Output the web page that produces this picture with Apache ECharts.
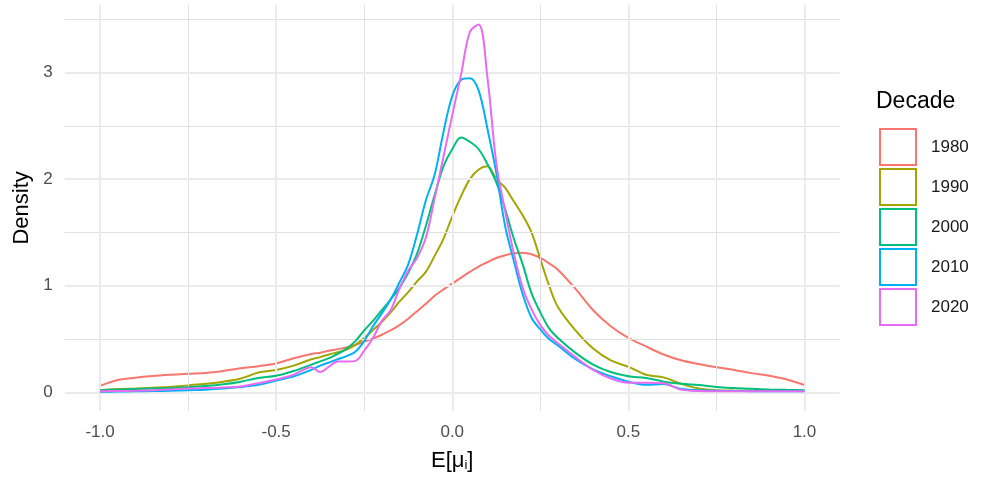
<!DOCTYPE html>
<html>
<head>
<meta charset="utf-8">
<script src="https://cdn.jsdelivr.net/npm/echarts@6/dist/echarts.min.js"></script>
<style>html,body{margin:0;padding:0;background:#fff}#c{width:981px;height:486px}</style>
</head>
<body>
<div id="c"></div>
<script>
// E[mu_i] evaluation points
const xs = [-1,-0.95,-0.9,-0.85,-0.8,-0.75,-0.7,-0.65,-0.6,-0.55,-0.5,-0.45,-0.4,
  -0.375,-0.35,-0.325,-0.3,-0.275,-0.25,-0.225,-0.2,-0.175,-0.15,-0.125,-0.1,-0.075,-0.05,-0.025,
  0,0.025,0.05,0.075,0.1,0.125,0.15,0.175,0.2,0.225,0.25,0.275,0.3,
  0.35,0.4,0.45,0.5,0.55,0.6,0.65,0.7,0.75,0.8,0.85,0.9,0.95,1];

const d1980 = [0.06,0.115,0.137,0.153,0.165,0.175,0.182,0.2,0.225,0.245,0.27,0.32,0.36,
  0.372,0.39,0.405,0.42,0.445,0.475,0.505,0.54,0.58,0.63,0.69,0.76,0.83,0.905,0.965,
  1.02,1.075,1.13,1.18,1.22,1.26,1.285,1.305,1.31,1.295,1.26,1.21,1.15,
  0.97,0.77,0.62,0.51,0.43,0.355,0.3,0.265,0.235,0.21,0.18,0.155,0.12,0.068];

const d1990 = [0.02,0.03,0.035,0.042,0.05,0.065,0.08,0.1,0.13,0.185,0.21,0.25,0.31,
  0.33,0.355,0.375,0.4,0.445,0.51,0.585,0.66,0.75,0.85,0.94,1.04,1.13,1.28,1.44,
  1.65,1.84,2.0,2.09,2.12,2.0,1.92,1.79,1.66,1.5,1.25,1.0,0.8,
  0.58,0.41,0.3,0.24,0.165,0.14,0.08,0.035,0.02,0.016,0.014,0.012,0.011,0.01];

const d2000 = [0.02,0.025,0.03,0.035,0.04,0.047,0.058,0.075,0.1,0.135,0.155,0.2,0.26,
  0.29,0.32,0.36,0.41,0.48,0.58,0.67,0.77,0.87,0.98,1.12,1.3,1.56,1.85,2.12,
  2.28,2.39,2.35,2.28,2.14,1.97,1.72,1.44,1.2,0.93,0.75,0.6,0.51,
  0.37,0.26,0.19,0.15,0.135,0.1,0.08,0.068,0.05,0.04,0.033,0.027,0.023,0.02];

const d2010 = [0.005,0.007,0.01,0.012,0.015,0.02,0.025,0.035,0.05,0.07,0.11,0.15,0.21,
  0.25,0.28,0.31,0.34,0.38,0.48,0.62,0.74,0.87,1.03,1.2,1.48,1.8,2.04,2.44,
  2.78,2.93,2.945,2.83,2.47,2.06,1.56,1.23,0.92,0.7,0.59,0.5,0.44,
  0.31,0.215,0.15,0.1,0.07,0.078,0.03,0.02,0.015,0.012,0.011,0.01,0.01,0.01];

const d2020 = [0.01,0.012,0.015,0.02,0.027,0.035,0.04,0.045,0.055,0.085,0.12,0.165,0.235,
  0.19,0.24,0.29,0.29,0.295,0.39,0.51,0.67,0.77,0.97,1.14,1.26,1.45,1.82,2.21,
  2.6,2.98,3.38,3.45,2.95,2.15,1.7,1.3,0.98,0.78,0.63,0.53,0.46,
  0.33,0.21,0.13,0.09,0.09,0.085,0.025,0.012,0.01,0.01,0.01,0.01,0.01,0.01];

const decades = ['1980','1990','2000','2010','2020'];
const densities = [d1980, d1990, d2000, d2010, d2020];
const colors = ['#F8766D','#A3A500','#00BF7D','#00B0F6','#E76BF3'];

const xMajor = [-1, -0.5, 0, 0.5, 1];
const xMinor = [-0.75, -0.25, 0.25, 0.75];
const yMajor = [0, 1, 2, 3];
const yMinor = [0.5, 1.5, 2.5, 3.5];

const FONT = 'Liberation Sans, Arial, Helvetica, sans-serif';
const isMult = (v, s) => Math.abs(v / s - Math.round(v / s)) < 1e-6;

const majorStyle = {color: '#EBEBEB', width: 2, type: 'solid'};
const minorStyle = {color: '#E0E0E0', width: 1, type: 'solid'};
const gridLines = []
  .concat(xMinor.map(v => ({xAxis: v, lineStyle: minorStyle})))
  .concat(yMinor.map(v => ({yAxis: v, lineStyle: minorStyle})))
  .concat(xMajor.map(v => ({xAxis: v, lineStyle: majorStyle})))
  .concat(yMajor.map(v => ({yAxis: v, lineStyle: majorStyle})));

const series = [{
  name: '_grid', type: 'line', data: [[-1, 0]], showSymbol: false, symbol: 'none',
  lineStyle: {width: 0, opacity: 0}, silent: true, z: 1,
  markLine: {silent: true, symbol: ['none', 'none'], label: {show: false}, animation: false,
    emphasis: {disabled: true}, data: gridLines}
}];
decades.forEach((d, i) => {
  series.push({
    name: d, type: 'line', smooth: 0.35, symbol: 'none', showSymbol: false, z: 3 + i,
    color: colors[i],
    lineStyle: {color: colors[i], width: 2},
    data: xs.map((x, j) => [x, densities[i][j]])
  });
});

const chart = echarts.init(document.getElementById('c'), null, {renderer: 'canvas'});
chart.setOption({
  animation: false,
  backgroundColor: '#ffffff',
  textStyle: {fontFamily: FONT},
  grid: {left: 64.8, right: 141.3, top: 4.8, bottom: 75.04},
  title: {text: 'Decade', left: 876, top: 90, padding: 0,
    textStyle: {fontSize: 23, fontWeight: 'normal', color: '#000', fontFamily: FONT}},
  legend: {
    orient: 'vertical', left: 879, top: 128, padding: 0,
    itemWidth: 36, itemHeight: 36, itemGap: 2, icon: 'rect', selectedMode: false,
    textStyle: {fontSize: 17, color: '#1A1A1A', fontFamily: FONT, padding: [0, 0, 0, 10]},
    data: decades.map((d, i) => ({name: d,
      itemStyle: {color: '#ffffff', borderColor: colors[i], borderWidth: 2}}))
  },
  xAxis: {
    type: 'value', min: -1.1, max: 1.1, interval: 0.05,
    axisLine: {show: false}, axisTick: {show: false}, splitLine: {show: false},
    axisLabel: {
      color: '#4D4D4D', fontSize: 17, margin: 13, fontFamily: FONT,
      showMinLabel: true, showMaxLabel: true,
      formatter: v => {
        if (!isMult(v, 0.5)) return '';
        let r = Math.round(v * 2) / 2; if (Math.abs(r) < 1e-9) r = 0;
        return r.toFixed(1);
      }
    },
    name: '{a|E[μ}{b|i}{a|]}', nameLocation: 'middle', nameGap: 38,
    nameTextStyle: {rich: {
      a: {fontSize: 22, color: '#000', fontFamily: FONT},
      b: {fontSize: 13, color: '#000', fontFamily: FONT, verticalAlign: 'bottom', padding: [10, 0, 0, 0]}
    }}
  },
  yAxis: {
    type: 'value', min: -0.175, max: 3.635, interval: 0.025,
    axisLine: {show: false}, axisTick: {show: false}, splitLine: {show: false},
    axisLabel: {
      color: '#4D4D4D', fontSize: 17, margin: 12, fontFamily: FONT,
      formatter: v => isMult(v, 1) ? String(Math.round(v)) : ''
    },
    name: 'Density', nameLocation: 'middle', nameGap: 31, nameRotate: 90,
    nameTextStyle: {fontSize: 22, color: '#000', fontFamily: FONT}
  },
  series: series
});
</script>
</body>
</html>
